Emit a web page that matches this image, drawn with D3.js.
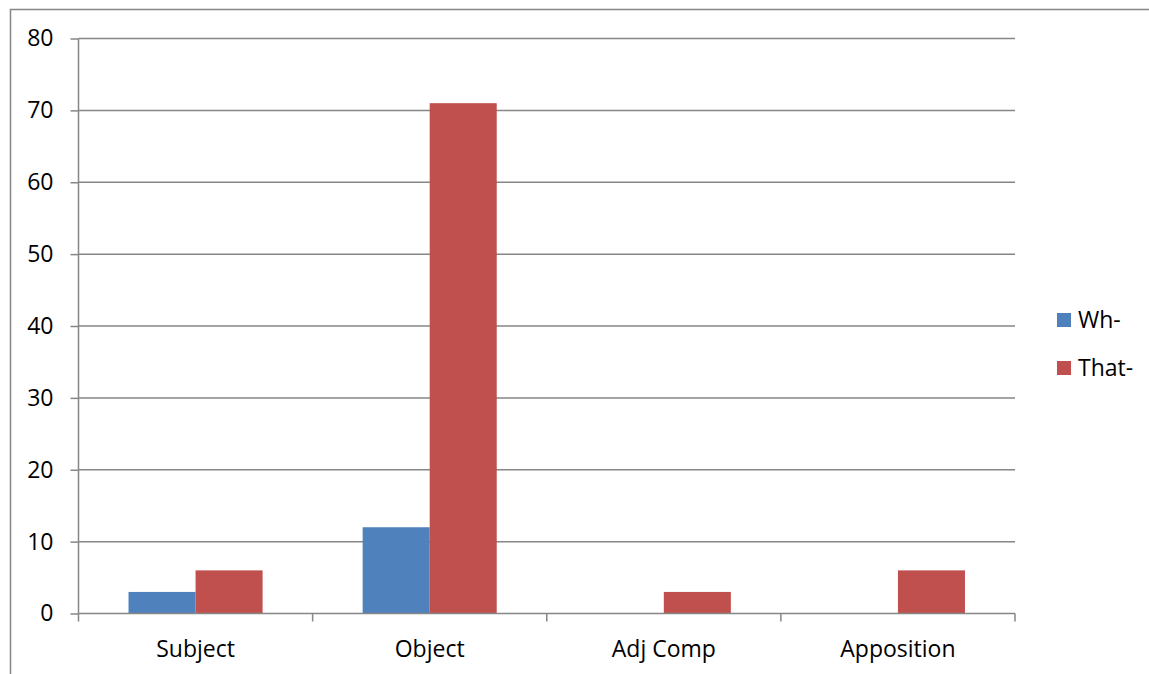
<!DOCTYPE html>
<html><head><meta charset="utf-8">
<script src="https://cdn.jsdelivr.net/npm/d3@7"></script>
<style>body{margin:0;background:#fff}svg{display:block}</style>
</head><body>
<script>
const categories = ["Subject", "Object", "Adj Comp", "Apposition"];
const seriesNames = ["Wh-", "That-"];
const whValues = [3, 12, 0, 0];
const thatValues = [6, 71, 3, 6];
const yTicks = [0, 10, 20, 30, 40, 50, 60, 70, 80];
const colors = ["#4F81BD", "#C0504D"];

const W = 1149, H = 674;
const svg = d3.select("body").append("svg").attr("width", W).attr("height", H);
const font = "'Open Sans', sans-serif";
const fs = 23;
const gridColor = "#868686";

// chart border
svg.append("rect").attr("x", 10.5).attr("y", 9.5).attr("width", 1200).attr("height", 700)
  .attr("fill", "none").attr("stroke", gridColor).attr("stroke-width", 1.5);

const x0 = 78.5, x1 = 1015, yTop = 38.5, yBot = 613.5;
const x = d3.scaleBand().domain(categories).range([x0, x1]).paddingInner(0).paddingOuter(0);
const y = d3.scaleLinear().domain([0, 80]).range([yBot, yTop]);
const xs = d3.scaleBand().domain(seriesNames).range([0, x.bandwidth()]).paddingInner(0).paddingOuter(50/67);

// gridlines
svg.append("g").selectAll("line").data(yTicks.filter(d => d > 0)).join("line")
  .attr("x1", x0).attr("x2", x1).attr("y1", d => y(d)).attr("y2", d => y(d))
  .attr("stroke", gridColor).attr("stroke-width", 1.5);

// y axis
const yAxis = svg.append("g").attr("transform", `translate(${x0},0)`)
  .call(d3.axisLeft(y).tickValues(yTicks).tickSize(8).tickPadding(17).tickFormat(d3.format("d")));
yAxis.select(".domain").attr("stroke", gridColor).attr("stroke-width", 1.5).attr("d", `M0,${yTop}V${yBot}`);
yAxis.selectAll(".tick line").attr("stroke", gridColor).attr("stroke-width", 1.5);
yAxis.selectAll(".tick text").attr("font-family", font).attr("font-size", fs).attr("fill", "#000");

// bars
const data = categories.map((c, i) => ({c, vals: [whValues[i], thatValues[i]]}));
const g = svg.append("g");
data.forEach(d => {
  d.vals.forEach((v, j) => {
    if (v <= 0) return;
    g.append("rect")
      .attr("x", x(d.c) + xs(seriesNames[j]))
      .attr("y", y(v))
      .attr("width", xs.bandwidth())
      .attr("height", y(0) - y(v))
      .attr("fill", colors[j]);
  });
});

// x axis
const xAxis = svg.append("g").attr("transform", `translate(0,${yBot})`)
  .call(d3.axisBottom(x).tickSize(0).tickPadding(27));
xAxis.select(".domain").attr("stroke", gridColor).attr("stroke-width", 1.5).attr("d", `M${x0},0H${x1}`);
xAxis.selectAll(".tick text").attr("font-family", font).attr("font-size", fs).attr("fill", "#000");
const bounds = categories.map(c => x(c)).concat([x1]);
svg.append("g").selectAll("line").data(bounds).join("line")
  .attr("x1", d => d).attr("x2", d => d).attr("y1", yBot).attr("y2", yBot + 8)
  .attr("stroke", gridColor).attr("stroke-width", 1.5);

// legend
const leg = svg.append("g");
seriesNames.forEach((s, i) => {
  const ly = 320 + i * 48;
  leg.append("rect").attr("x", 1057).attr("y", ly - 7).attr("width", 14).attr("height", 14).attr("fill", colors[i]);
  leg.append("text").attr("x", 1078).attr("y", ly).attr("dy", "0.35em")
    .attr("font-family", font).attr("font-size", fs).attr("fill", "#000").text(s);
});
</script>
</body></html>
